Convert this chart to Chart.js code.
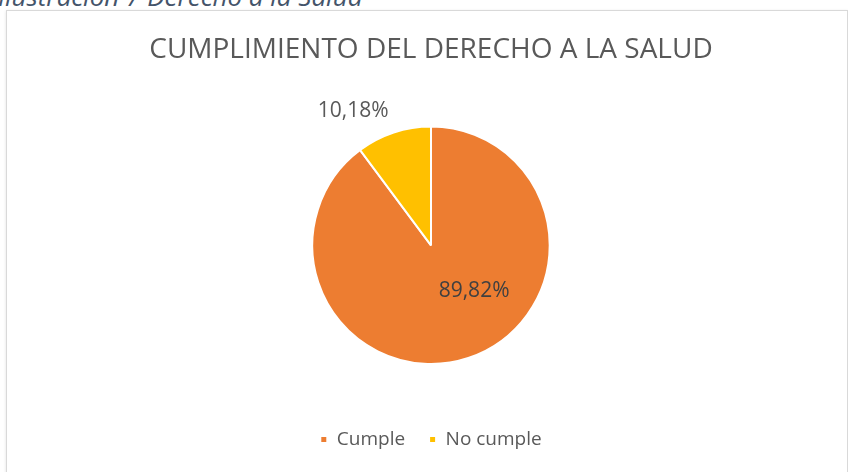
<!DOCTYPE html>
<html>
<head>
<meta charset="utf-8">
<script src="https://cdn.jsdelivr.net/npm/chart.js@4/dist/chart.umd.min.js"></script>
<style>
  html, body { margin: 0; padding: 0; background: #fff; overflow: hidden; }
  body { width: 848px; height: 472px; position: relative; }
  #caption {
    position: absolute; left: -2px; top: -19px;
    font: italic 26px "Open Sans", sans-serif; color: #44546a;
    line-height: 30px; white-space: nowrap;
  }
  #box {
    position: absolute; left: 6px; top: 10px; width: 840px; height: 470px;
    border: 1px solid #d9d9d9; box-shadow: 0 1px 3px rgba(0,0,0,0.12);
    background: #fff;
  }
  #chart { position: absolute; left: 0; top: 0; }
</style>
</head>
<body>
<div id="caption">Ilustración 7 Derecho a la Salud</div>
<div id="box"><canvas id="chart" width="840" height="462"></canvas></div>
<script>
// chart data
const categories = ["Cumple", "No cumple"];
const values = [89.82, 10.18];
const sliceColors = ["#ED7D31", "#FFC000"];
const chartTitle = "CUMPLIMIENTO DEL DERECHO A LA SALUD";

// formats a value like excel with comma decimals
function formatPct(v) {
  return v.toFixed(2).replace(".", ",") + "%";
}

// label placement per slice: fraction along the arc, fraction of radius
const labelPlace = [
  { along: 0.423, radius: 0.53, color: "#404040" },
  { along: 0.18, radius: 1.31, color: "#595959" },
];

// draws the percent labels from the arc geometry
const pctLabels = {
  id: "pctLabels",
  afterDatasetsDraw(chart) {
    const ctx = chart.ctx;
    const meta = chart.getDatasetMeta(0);
    ctx.save();
    ctx.font = '21px "Open Sans", sans-serif';
    ctx.textAlign = "center";
    ctx.textBaseline = "middle";
    meta.data.forEach((arc, i) => {
      const p = arc.getProps(["x", "y", "startAngle", "endAngle", "outerRadius"], true);
      const place = labelPlace[i];
      const a = p.startAngle + (p.endAngle - p.startAngle) * place.along;
      const r = p.outerRadius * place.radius;
      ctx.fillStyle = place.color;
      ctx.fillText(formatPct(values[i]), p.x + Math.cos(a) * r, p.y + Math.sin(a) * r);
    });
    ctx.restore();
  },
};

new Chart(document.getElementById("chart"), {
  type: "pie",
  data: {
    labels: categories,
    datasets: [
      {
        data: values,
        backgroundColor: sliceColors,
        borderColor: "#FFFFFF",
        borderWidth: 2,
      },
    ],
  },
  options: {
    responsive: false,
    animation: false,
    layout: { padding: { top: 0, bottom: 14, left: 8, right: 0 } },
    plugins: {
      tooltip: { enabled: false },
      title: {
        display: true,
        text: chartTitle,
        color: "#595959",
        font: { family: "Open Sans", size: 28, weight: "normal" },
        padding: { top: 22, bottom: 59 },
      },
      legend: {
        position: "bottom",
        // empty legend title only used as a spacer above the items
        title: { display: true, text: "", font: { size: 10 }, padding: { top: 0, bottom: 29 } },
        labels: {
          color: "#595959",
          font: { family: "Open Sans", size: 19 },
          boxWidth: 7,
          boxHeight: 7,
          padding: 24,
        },
      },
    },
  },
  plugins: [pctLabels],
});
</script>
</body>
</html>
